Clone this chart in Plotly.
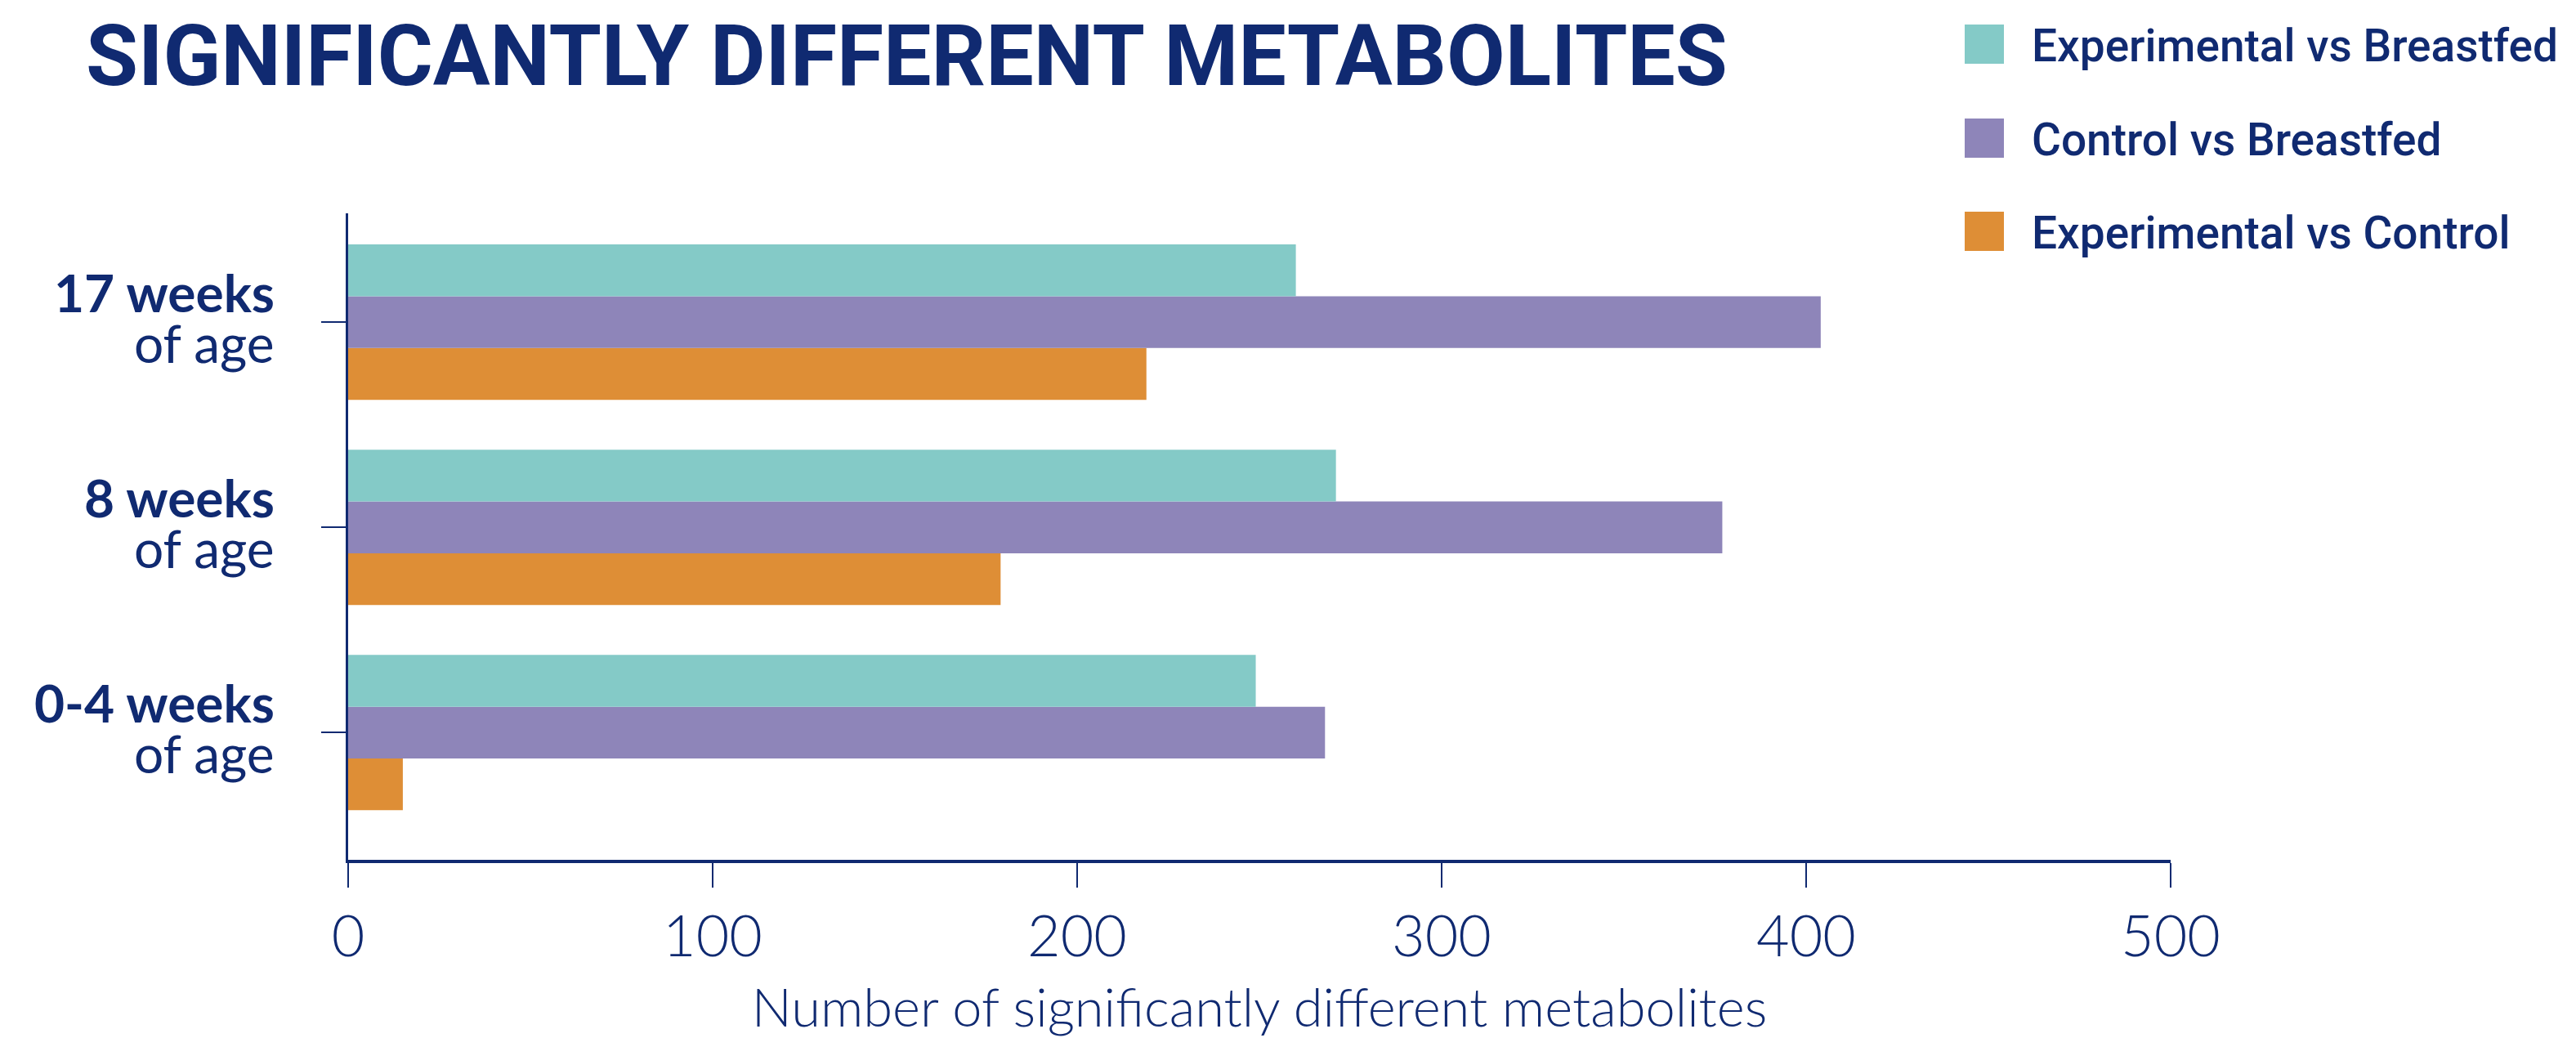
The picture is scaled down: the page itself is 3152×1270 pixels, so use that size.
import plotly.graph_objects as go

# ---- data ----
ages = ["0-4 weeks", "8 weeks", "17 weeks"]
age_suffix = "of age"
series_names = ["Experimental vs Breastfed", "Control vs Breastfed", "Experimental vs Control"]
exp_vs_breastfed = [249, 271, 260]
ctrl_vs_breastfed = [268, 377, 404]
exp_vs_ctrl = [15, 179, 219]
series_colors = ["#84CAC7", "#8E85B9", "#DE8E36"]
x_ticks = [0, 100, 200, 300, 400, 500]
title_text = "SIGNIFICANTLY DIFFERENT METABOLITES"
x_title = "Number of significantly different metabolites"

# ---- geometry / style ----
NAVY = "#102A71"
W, H = 3152, 1270
L, R, T, B = 426, 496, 261, 218
PW, PH = W - L - R, H - T - B


def px_x(x):
    return (x - L) / PW


def px_y(y):
    return (H - B - y) / PH


fig = go.Figure()
series = list(zip(series_names, [exp_vs_breastfed, ctrl_vs_breastfed, exp_vs_ctrl], series_colors))
# horizontal groups stack upward by trace index, so add bottom bar first
for name, vals, color in reversed(series):
    fig.add_trace(go.Bar(
        y=ages, x=vals, name=name, orientation="h",
        marker=dict(color=color, line=dict(width=0)),
        showlegend=False,
    ))

annotations = []
shapes = []

# chart title
annotations.append(dict(
    text=title_text, xref="paper", yref="paper", x=px_x(103), y=px_y(68),
    xanchor="left", yanchor="middle", showarrow=False,
    font=dict(family="Roboto", size=104, color=NAVY, weight=700),
))

# legend: colour squares + labels
legend_centers = [54, 169, 283]
for (name, _, color), cy in zip(series, legend_centers):
    shapes.append(dict(
        type="rect", xref="paper", yref="paper",
        x0=px_x(2404), x1=px_x(2452), y0=px_y(cy + 24), y1=px_y(cy - 24),
        fillcolor=color, line=dict(width=0),
    ))
    annotations.append(dict(
        text=name, xref="paper", yref="paper", x=px_x(2484), y=px_y(cy + 2),
        xanchor="left", yanchor="middle", showarrow=False,
        font=dict(family="Roboto", size=55, color=NAVY, weight=500),
    ))

# two-line category labels next to the y ticks
for age in ages:
    annotations.append(dict(
        text=f"<b>{age}</b>", xref="paper", yref="y", x=0, y=age,
        xanchor="right", yanchor="middle", xshift=-88, yshift=37, showarrow=False,
        font=dict(family="Lato", size=64, color=NAVY, weight=700),
    ))
    annotations.append(dict(
        text=age_suffix, xref="paper", yref="y", x=0, y=age,
        xanchor="right", yanchor="middle", xshift=-88, yshift=-25, showarrow=False,
        font=dict(family="Lato", size=64, color=NAVY, weight=400),
    ))

fig.update_layout(
    width=W, height=H,
    margin=dict(l=L, r=R, t=T, b=B, autoexpand=False),
    paper_bgcolor="white", plot_bgcolor="white",
    barmode="group", bargap=0.243, bargroupgap=0,
    xaxis=dict(
        range=[0, 500], tickvals=x_ticks, ticks="outside", ticklen=30, tickwidth=2,
        tickcolor=NAVY, showline=True, linecolor=NAVY, linewidth=4,
        showgrid=False, zeroline=False,
        tickfont=dict(family="Lato", size=70, color=NAVY, weight=300),
        title=dict(text=x_title, standoff=38,
                   font=dict(family="Lato", size=65, color=NAVY, weight=300)),
    ),
    yaxis=dict(
        categoryorder="array", categoryarray=ages, range=[-0.62, 2.53],
        ticks="outside", ticklen=30, tickwidth=2, tickcolor=NAVY,
        showline=True, linecolor=NAVY, linewidth=3, showticklabels=False,
        showgrid=False, zeroline=False,
    ),
    annotations=annotations,
    shapes=shapes,
)

fig.write_html("out.html")
